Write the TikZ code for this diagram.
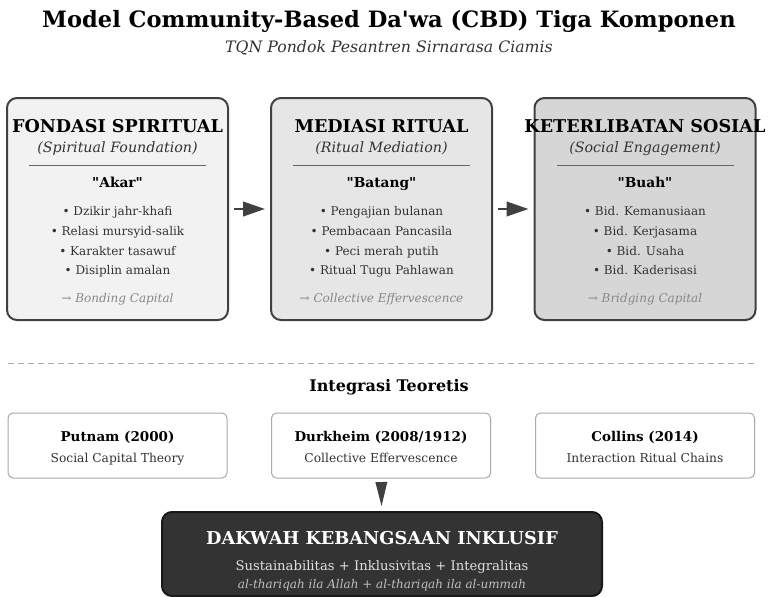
\documentclass[tikz,border=0pt]{standalone}
\usepackage{fontspec}
\setmainfont{DejaVu Serif}[Ligatures=TeXOff]
\usetikzlibrary{arrows.meta}

\definecolor{boxline}{HTML}{404040}
\definecolor{fillA}{HTML}{F2F2F2}
\definecolor{fillB}{HTML}{E6E6E6}
\definecolor{fillC}{HTML}{D6D6D6}
\definecolor{bodytext}{HTML}{333333}
\definecolor{capitaltext}{HTML}{888888}
\definecolor{theoryline}{HTML}{AAAAAA}
\definecolor{darkfill}{HTML}{333333}

\tikzset{every picture/.style={line width=0.75pt}}

\begin{document}
\begin{tikzpicture}[x=0.75pt,y=0.75pt,yscale=-1,xscale=1,
	compbox/.style={draw=boxline, line width=1.5pt, rounded corners=7.5pt, minimum width=165.75pt, minimum height=166.5pt, inner sep=0pt},
	theorybox/.style={draw=theoryline, line width=0.75pt, fill=white, rounded corners=3.75pt, minimum width=164.25pt, minimum height=48.75pt, inner sep=0pt},
	resultbox/.style={draw=black!90, line width=1.5pt, fill=darkfill, rounded corners=7.5pt, minimum width=330pt, minimum height=63pt, inner sep=0pt},
	flowarrow/.style={draw=boxline, line width=1.5pt, -{Triangle[length=16.5pt,width=11pt]}, shorten <=3.75pt, shorten >=3.75pt},
	boxtitle/.style={anchor=base, inner sep=0.75pt, font=\fontsize{13.2}{15}\bfseries},
	boxsub/.style={anchor=base, inner sep=0.75pt, text=bodytext, font=\fontsize{10.7}{12}\itshape},
	boxkey/.style={anchor=base, inner sep=0.75pt, font=\fontsize{10.3}{12}\bfseries},
	bullet/.style={anchor=base, inner sep=0.75pt, text=bodytext, font=\fontsize{9}{11}\selectfont},
	capital/.style={anchor=base, inner sep=0.75pt, text=capitaltext, font=\fontsize{9}{10}\itshape},
	theoryname/.style={anchor=base, inner sep=0.75pt, font=\fontsize{10.1}{12}\bfseries},
	theorytext/.style={anchor=base, inner sep=0.75pt, text=bodytext, font=\fontsize{9.2}{11}\selectfont},
	sepline/.style={draw=boxline!80, line width=0.75pt}
	]
	%set diagram to 769 x 597
	\useasboundingbox (0,0) rectangle (769,597);
	
	% Title
	\node (title) [anchor=base, inner sep=0.75pt, font=\fontsize{16.9}{19}\bfseries] at (389,27) {Model Community-Based Da'wa (CBD) Tiga Komponen};
	\node (subtitle) [anchor=base, inner sep=0.75pt, text=bodytext, font=\fontsize{11.8}{13}\itshape] at (389,52) {TQN Pondok Pesantren Sirnarasa Ciamis};
	
	%Rounded Rect [component boxes]
	\node (fondasi) [compbox, fill=fillA] at (117.5,209) {};
	\node (mediasi) [compbox, fill=fillB] at (381.5,209) {};
	\node (sosial) [compbox, fill=fillC] at (645,209) {};
	
	%Straight Lines [separators]
	\draw [sepline] (29,165) -- (206,165) ;
	\draw [sepline] (293,165) -- (470,165) ;
	\draw [sepline] (557,165) -- (734,165) ;
	
	% Text Node
	\node (fondasiT) [boxtitle] at (117.5,132) {FONDASI SPIRITUAL};
	\node (fondasiS) [boxsub] at (117.5,152) {(Spiritual Foundation)};
	\node (fondasiK) [boxkey] at (117.5,187) {"Akar"};
	\node (fondasi1) [bullet] at (117.5,215) {• Dzikir jahr-khafi};
	\node (fondasi2) [bullet] at (117.5,235) {• Relasi mursyid-salik};
	\node (fondasi3) [bullet] at (117.5,255) {• Karakter tasawuf};
	\node (fondasi4) [bullet] at (117.5,274) {• Disiplin amalan};
	\node (fondasiC) [capital] at (117.5,302) {→ Bonding Capital};
	
	% Text Node
	\node (mediasiT) [boxtitle] at (381.5,132) {MEDIASI RITUAL};
	\node (mediasiS) [boxsub] at (381.5,152) {(Ritual Mediation)};
	\node (mediasiK) [boxkey] at (381.5,187) {"Batang"};
	\node (mediasi1) [bullet] at (381.5,215) {• Pengajian bulanan};
	\node (mediasi2) [bullet] at (381.5,235) {• Pembacaan Pancasila};
	\node (mediasi3) [bullet] at (381.5,255) {• Peci merah putih};
	\node (mediasi4) [bullet] at (381.5,274) {• Ritual Tugu Pahlawan};
	\node (mediasiC) [capital] at (381.5,302) {→ Collective Effervescence};
	
	% Text Node
	\node (sosialT) [boxtitle] at (645,132) {KETERLIBATAN SOSIAL};
	\node (sosialS) [boxsub] at (645,152) {(Social Engagement)};
	\node (sosialK) [boxkey] at (645,187) {"Buah"};
	\node (sosial1) [bullet] at (645,215) {• Bid. Kemanusiaan};
	\node (sosial2) [bullet] at (645,235) {• Bid. Kerjasama};
	\node (sosial3) [bullet] at (645,255) {• Bid. Usaha};
	\node (sosial4) [bullet] at (645,274) {• Bid. Kaderisasi};
	\node (sosialC) [capital] at (645,302) {→ Bridging Capital};
	
	%Arrows between components
	\draw [flowarrow] (fondasi) -- (mediasi) ;
	\draw [flowarrow] (mediasi) -- (sosial) ;
	
	%Dashed divider
	\draw [draw=theoryline, line width=0.75pt, dash pattern=on 4.5pt off 3pt] (8,363) -- (755,363) ;
	
	% Text Node
	\node (integrasi) [anchor=base, inner sep=0.75pt, font=\fontsize{12}{14}\bfseries] at (389,391) {Integrasi Teoretis};
	
	%Rounded Rect [theory boxes]
	\node (putnam) [theorybox] at (117.5,445.5) {};
	\node (durkheim) [theorybox] at (381,445.5) {};
	\node (collins) [theorybox] at (645,445.5) {};
	
	% Text Node
	\node (putnamA) [theoryname] at (117.5,441) {Putnam (2000)};
	\node (putnamB) [theorytext] at (117.5,462) {Social Capital Theory};
	\node (durkheimA) [theoryname] at (381,441) {Durkheim (2008/1912)};
	\node (durkheimB) [theorytext] at (381,462) {Collective Effervescence};
	\node (collinsA) [theoryname] at (645,441) {Collins (2014)};
	\node (collinsB) [theorytext] at (645,462) {Interaction Ritual Chains};
	
	%Result box
	\node (dakwah) [resultbox] at (382,554) {};
	\draw [draw=boxline, line width=0pt, -{Triangle[length=18pt,width=9pt]}, shorten <=3pt, shorten >=3.75pt] (durkheim) -- (dakwah) ;
	
	% Text Node
	\node (dakwahT) [anchor=base, inner sep=0.75pt, text=white, font=\fontsize{13.3}{15}\bfseries] at (382,544) {DAKWAH KEBANGSAAN INKLUSIF};
	\node (dakwahS) [anchor=base, inner sep=0.75pt, text=black!12, font=\fontsize{9.9}{11}\selectfont] at (382,570) {Sustainabilitas + Inklusivitas + Integralitas};
	\node (dakwahI) [anchor=base, inner sep=0.75pt, text=black!25, font=\fontsize{9}{10}\itshape] at (382,588) {al-thariqah ila Allah + al-thariqah ila al-ummah};
	
\end{tikzpicture}
\end{document}
